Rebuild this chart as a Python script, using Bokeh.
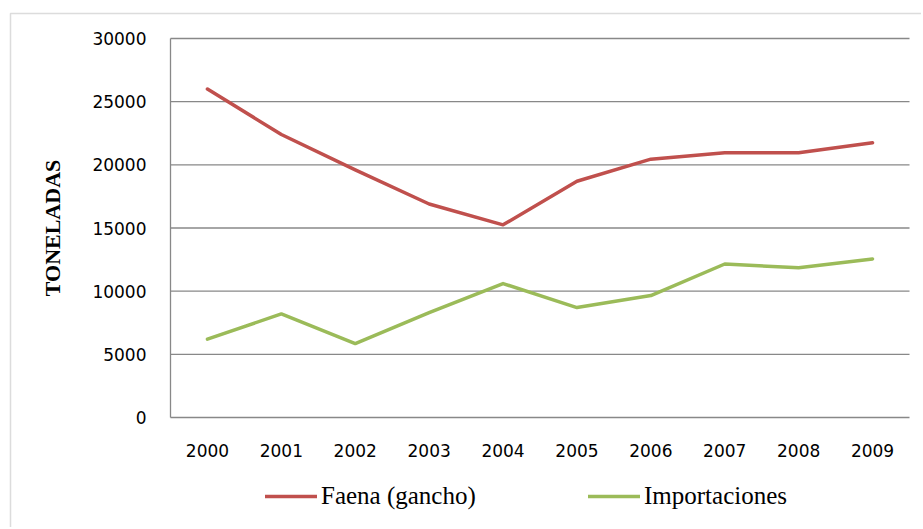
from math import pi
from bokeh.plotting import figure
from bokeh.models import Range1d, Legend, LegendItem, BoxAnnotation
from bokeh.core.properties import value
from bokeh.embed import file_html
from bokeh.resources import INLINE

years = ["2000", "2001", "2002", "2003", "2004", "2005", "2006", "2007", "2008", "2009"]
faena = [26000, 22400, 19600, 16900, 15250, 18700, 20450, 20950, 20950, 21750]
importaciones = [6200, 8200, 5850, 8300, 10600, 8700, 9650, 12150, 11850, 12550]
y_ticks = [0, 5000, 10000, 15000, 20000, 25000, 30000]
y_title = "TONELADAS"
series_names = ["Faena (gancho)", "Importaciones"]

# layout (pixels)
W, H = 921, 527
plot_left, plot_right, plot_top, plot_bottom = 170, 909, 38, 417
n = len(years)
px_per_cat = (plot_right - plot_left) / n
px_per_unit = (plot_bottom - plot_top) / (y_ticks[-1] - y_ticks[0])

x_range = Range1d(-plot_left / px_per_cat, (W - plot_left) / px_per_cat)
y_range = Range1d(y_ticks[0] - (H - plot_bottom) / px_per_unit,
                  y_ticks[0] + plot_bottom / px_per_unit)

p = figure(width=W, height=H, x_range=x_range, y_range=y_range,
           x_axis_location=None, y_axis_location=None,
           min_border=0, min_border_left=0, min_border_right=0,
           min_border_top=0, min_border_bottom=0,
           output_backend="svg", toolbar_location=None)
p.grid.visible = False
p.outline_line_color = None
p.background_fill_color = "white"
p.border_fill_color = "white"

xs = [i + 0.5 for i in range(n)]
grid_col = "#888888"

# horizontal gridlines (incl. baseline and top line)
p.segment(x0=[0] * len(y_ticks), x1=[n] * len(y_ticks), y0=y_ticks, y1=y_ticks,
          line_color=grid_col, line_width=1.3)
# vertical axis line
p.segment(x0=[0], x1=[0], y0=[y_ticks[0]], y1=[y_ticks[-1]], line_color=grid_col, line_width=1.3)

r1 = p.line(xs, faena, line_color="#C0504D", line_width=3.5, line_cap="round", line_join="round")
r2 = p.line(xs, importaciones, line_color="#9BBB59", line_width=3.5, line_cap="round", line_join="round")

# y tick labels
p.text(x=[0] * len(y_ticks), y=y_ticks, text=[str(t) for t in y_ticks],
       x_offset=-24, text_align="right", text_baseline="middle",
       text_font=value("DejaVu Sans"), text_font_size=value("17px"), text_color="black")
# x tick labels
p.text(x=xs, y=[y_ticks[0]] * n, text=years, y_offset=33,
       text_align="center", text_baseline="middle",
       text_font=value("DejaVu Sans"), text_font_size=value("17px"), text_color="black")
# y axis title
p.text(x=[0], y=[(y_ticks[0] + y_ticks[-1]) / 2], text=[y_title], angle=pi / 2,
       x_offset=-118, text_align="center", text_baseline="middle",
       text_font=value("Liberation Serif"), text_font_style="bold",
       text_font_size=value("22px"), text_color="black")

legend = Legend(items=[LegendItem(label=series_names[0], renderers=[r1]),
                       LegendItem(label=series_names[1], renderers=[r2])],
                orientation="horizontal", location=(265, H - 510),
                glyph_width=52, glyph_height=24, label_height=24, label_width=267,
                label_standoff=4, spacing=0, padding=0, margin=0,
                border_line_color=None, background_fill_alpha=0,
                label_text_font="Liberation Serif", label_text_font_size="25px",
                label_text_color="black")
p.add_layout(legend)

border = BoxAnnotation(left=10, right=2000, top=13, bottom=2000,
                       left_units="canvas", right_units="canvas",
                       top_units="canvas", bottom_units="canvas",
                       fill_alpha=0, line_color="#8c8c8c", line_width=1.5)
p.add_layout(border)

open("out.html", "w").write(file_html(p, INLINE))
